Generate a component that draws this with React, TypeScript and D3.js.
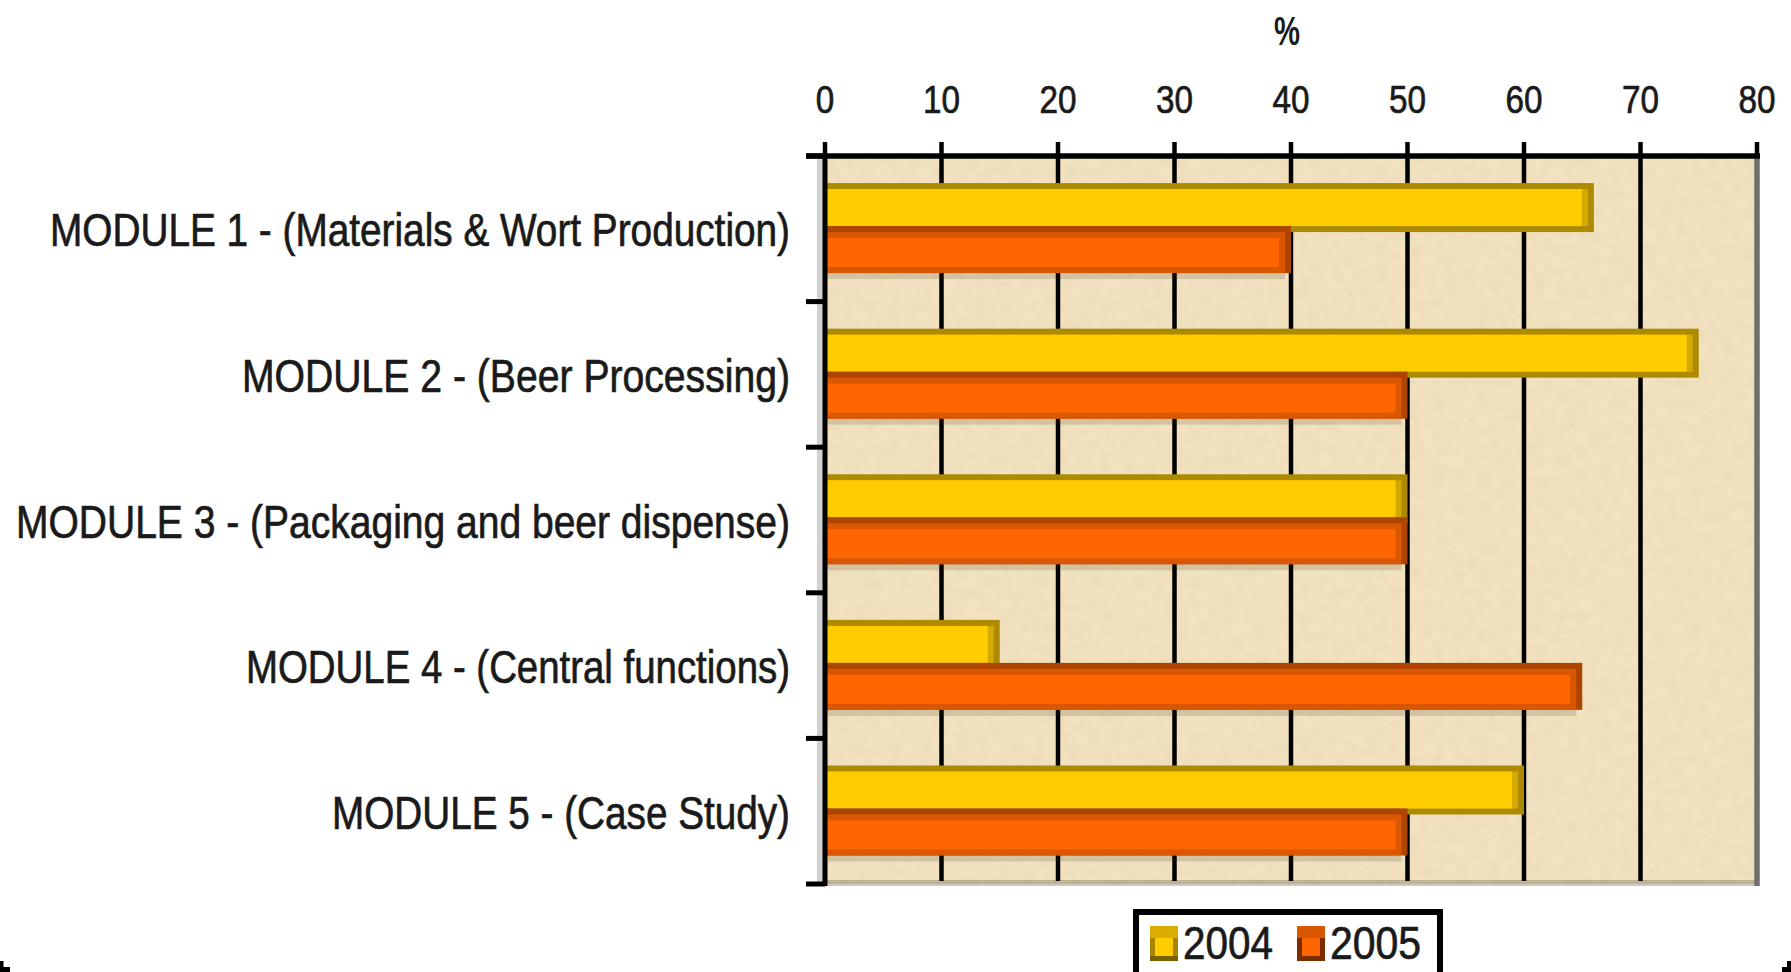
import React from "react";
import * as d3 from "d3";

const categories = [
  "MODULE 1 - (Materials & Wort Production)",
  "MODULE 2 - (Beer Processing)",
  "MODULE 3 - (Packaging and beer dispense)",
  "MODULE 4 - (Central functions)",
  "MODULE 5 - (Case Study)",
];
const series = ["2004", "2005"];
const values2004 = [66, 75, 50, 15, 60];
const values2005 = [40, 50, 50, 65, 50];
const xTicks = [0, 10, 20, 30, 40, 50, 60, 70, 80];
const labelWidths = [740, 548, 774, 544, 458];
const axisTitle = "%";

const W = 1791;
const H = 972;
const PLOT = { left: 825, right: 1757, top: 156, bottom: 884 };
const FONT = "'Liberation Sans', Arial, sans-serif";

export default function App() {
  React.useEffect(() => {
    document.body.style.margin = "0";
  }, []);

  const x = d3.scaleLinear().domain([0, 80]).range([PLOT.left, PLOT.right]);
  const y = d3
    .scaleBand<string>()
    .domain(categories)
    .range([PLOT.top, PLOT.bottom])
    .padding(0);
  const bw = y.bandwidth();
  const sub = d3
    .scaleBand<string>()
    .domain(series)
    .range([bw * 0.186, bw * 0.804])
    .padding(0);
  const sh = sub.bandwidth();

  const boundaries = categories.map((c) => y(c) as number).concat([PLOT.bottom]);
  const textStyle = { stroke: "#1a1a1a", strokeWidth: 0.7 };

  return (
    <svg
      width={W}
      height={H}
      style={{ position: "absolute", left: 0, top: 0, display: "block", background: "#fff" }}
      fontFamily={FONT}
    >
      <defs>
        <filter id="paper" x="0" y="0" width="100%" height="100%">
          <feTurbulence type="fractalNoise" baseFrequency="0.09" numOctaves="2" seed="7" />
          <feColorMatrix
            type="matrix"
            values="0 0 0 0 0.80  0 0 0 0 0.67  0 0 0 0 0.45  1.1 0 0 0 -0.38"
          />
        </filter>
      </defs>
      <rect x={0} y={0} width={W} height={H} fill="#fff" />

      {/* plot background */}
      <rect
        x={PLOT.left}
        y={PLOT.top}
        width={PLOT.right - PLOT.left}
        height={PLOT.bottom - PLOT.top}
        fill="#F2E2C0"
      />
      <rect
        x={PLOT.left}
        y={PLOT.top}
        width={PLOT.right - PLOT.left}
        height={PLOT.bottom - PLOT.top}
        filter="url(#paper)"
      />
      {/* bottom border */}
      <rect
        x={PLOT.left}
        y={PLOT.bottom - 4}
        width={PLOT.right - PLOT.left}
        height={6}
        fill="rgba(70,60,40,0.28)"
      />
      {/* left light shadow */}
      <rect x={PLOT.left - 8} y={PLOT.top} width={6} height={PLOT.bottom - PLOT.top + 2} fill="#D2D2D2" />

      {/* gridlines */}
      {xTicks
        .filter((t) => t > 0 && t < 80)
        .map((t) => (
          <line
            key={"g" + t}
            x1={x(t)}
            x2={x(t)}
            y1={PLOT.top}
            y2={PLOT.bottom - 3}
            stroke="#000"
            strokeWidth={4.5}
          />
        ))}
      {/* right border */}
      <line
        x1={x(80)}
        x2={x(80)}
        y1={PLOT.top}
        y2={PLOT.bottom + 2}
        stroke="#6E6E6E"
        strokeWidth={5.5}
      />

      {/* bars */}
      {categories.map((c, i) => {
        const by = y(c) as number;
        const yy = by + (sub("2004") as number);
        const oy = by + (sub("2005") as number);
        const x0 = x(0);
        const xy = x(values2004[i]);
        const xo = x(values2005[i]);
        return (
          <g key={c}>
            {/* 2004 yellow */}
            <rect x={x0} y={yy} width={xy - x0} height={sh + 4} fill="#AD8A00" />
            <rect x={x0} y={yy + 6} width={xy - x0 - 6} height={sh - 8} fill="#D4AA00" />
            <rect x={x0} y={yy + 6} width={xy - x0 - 12} height={sh - 8} fill="#FFCC00" />
            {/* 2005 orange shadow */}
            <rect x={x0} y={oy + sh} width={Math.max(0, xo - x0 - 6)} height={6} fill="rgba(60,45,20,0.16)" />
            {/* 2005 orange */}
            <rect x={x0} y={oy - 2} width={xo - x0} height={sh + 2} fill="#AD4400" />
            <rect x={x0} y={oy + 4} width={xo - x0 - 6} height={sh - 4} fill="#D95700" />
            <rect x={x0} y={oy + 10} width={xo - x0 - 12} height={sh - 16} fill="#FF6600" />
          </g>
        );
      })}

      {/* left axis */}
      <line
        x1={PLOT.left}
        x2={PLOT.left}
        y1={PLOT.top}
        y2={PLOT.bottom + 2}
        stroke="#000"
        strokeWidth={5}
      />
      {boundaries.map((b, i) => (
        <line
          key={"ct" + i}
          x1={PLOT.left - 19}
          x2={PLOT.left}
          y1={b}
          y2={b}
          stroke="#000"
          strokeWidth={5}
        />
      ))}

      {/* top axis */}
      <line
        x1={PLOT.left - 19}
        x2={x(80) + 3}
        y1={PLOT.top}
        y2={PLOT.top}
        stroke="#000"
        strokeWidth={5.5}
      />
      {xTicks.map((t) => (
        <line
          key={"t" + t}
          x1={x(t)}
          x2={x(t)}
          y1={PLOT.top - 14}
          y2={PLOT.top}
          stroke="#000"
          strokeWidth={4.5}
        />
      ))}
      {xTicks.map((t) => (
        <text
          key={"tl" + t}
          x={x(t)}
          y={113}
          fontSize={39}
          textAnchor="middle"
          fill="#1a1a1a"
          style={textStyle}
          textLength={String(t).length * 18.5}
          lengthAdjust="spacingAndGlyphs"
        >
          {t}
        </text>
      ))}
      <text
        x={(PLOT.left + PLOT.right) / 2 - 4}
        y={45}
        fontSize={40}
        fontWeight="bold"
        textAnchor="middle"
        fill="#1a1a1a"
        textLength={26}
        lengthAdjust="spacingAndGlyphs"
      >
        {axisTitle}
      </text>

      {/* category labels */}
      {categories.map((c, i) => (
        <text
          key={"cl" + c}
          x={790 - labelWidths[i]}
          y={(y(c) as number) + bw / 2 + 17.5}
          fontSize={46}
          fill="#1a1a1a"
          style={textStyle}
          textLength={labelWidths[i]}
          lengthAdjust="spacingAndGlyphs"
        >
          {c}
        </text>
      ))}

      {/* legend */}
      <rect x={1136} y={912} width={304} height={90} fill="#fff" stroke="#000" strokeWidth={6} />
      {/* 2004 swatch */}
      <rect x={1150} y={926} width={28} height={35} fill="#A88400" />
      <rect x={1150} y={926} width={28} height={12} fill="#D9AE00" />
      <rect x={1155} y={938} width={18} height={18} fill="#FFCC00" />
      <rect x={1150} y={956} width={28} height={5} fill="#7A6100" />
      <text x={1183} y={959} fontSize={46} fill="#1a1a1a" style={textStyle} textLength={90} lengthAdjust="spacingAndGlyphs">
        {series[0]}
      </text>
      {/* 2005 swatch */}
      <rect x={1297} y={926} width={28} height={35} fill="#7A2E00" />
      <rect x={1297} y={926} width={28} height={12} fill="#D95700" />
      <rect x={1302} y={938} width={18} height={18} fill="#FF6600" />
      <rect x={1297} y={956} width={28} height={5} fill="#7A2E00" />
      <text x={1330} y={959} fontSize={46} fill="#1a1a1a" style={textStyle} textLength={91} lengthAdjust="spacingAndGlyphs">
        {series[1]}
      </text>

      {/* corner marks */}
      <rect x={0} y={961} width={3.5} height={11} fill="#000" />
      <rect x={0} y={967} width={10} height={5} fill="#000" />
      <rect x={1787} y={961} width={4} height={11} fill="#000" />
      <rect x={1782} y={967} width={9} height={5} fill="#000" />
    </svg>
  );
}
